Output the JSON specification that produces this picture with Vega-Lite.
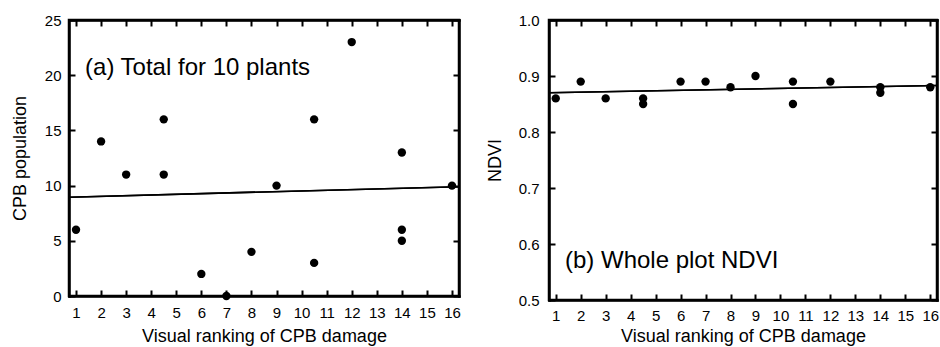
{
  "$schema": "https://vega.github.io/schema/vega-lite/v6.json",
  "padding": {"left": 10, "top": 11, "right": 0, "bottom": 0},
  "spacing": 20,
  "config": {
    "font": "Liberation Sans",
    "view": {"stroke": "black", "strokeWidth": 2.5},
    "axis": {
      "grid": false,
      "labelFont": "Liberation Sans",
      "labelFontSize": 15,
      "labelColor": "black",
      "titleFont": "Liberation Sans",
      "titleFontSize": 18,
      "titleFontWeight": "normal",
      "titleColor": "black"
    }
  },
  "datasets": {
    "cpb": [
      {"rank": 1, "value": 6}, {"rank": 2, "value": 14}, {"rank": 3, "value": 11},
      {"rank": 4.5, "value": 16}, {"rank": 4.5, "value": 11}, {"rank": 6, "value": 2},
      {"rank": 7, "value": 0}, {"rank": 8, "value": 4}, {"rank": 9, "value": 10},
      {"rank": 10.5, "value": 16}, {"rank": 10.5, "value": 3}, {"rank": 12, "value": 23},
      {"rank": 14, "value": 13}, {"rank": 14, "value": 6}, {"rank": 14, "value": 5},
      {"rank": 16, "value": 10}
    ],
    "cpbFit": [{"rank": 0.72, "value": 8.95}, {"rank": 16.28, "value": 9.9}],
    "cpbLabel": [{"rank": 1.36, "value": 20, "label": "(a) Total for 10 plants"}],
    "ndvi": [
      {"rank": 1, "value": 0.86}, {"rank": 2, "value": 0.89}, {"rank": 3, "value": 0.86},
      {"rank": 4.5, "value": 0.86}, {"rank": 4.5, "value": 0.85}, {"rank": 6, "value": 0.89},
      {"rank": 7, "value": 0.89}, {"rank": 8, "value": 0.88}, {"rank": 9, "value": 0.9},
      {"rank": 10.5, "value": 0.89}, {"rank": 10.5, "value": 0.85}, {"rank": 12, "value": 0.89},
      {"rank": 14, "value": 0.88}, {"rank": 14, "value": 0.87}, {"rank": 16, "value": 0.88}
    ],
    "ndviFit": [{"rank": 0.73, "value": 0.87}, {"rank": 16.27, "value": 0.883}],
    "ndviLabel": [{"rank": 1.37, "value": 0.558, "label": "(b) Whole plot NDVI"}]
  },
  "hconcat": [
    {
      "width": 390,
      "height": 276,
      "view": {"stroke": "black", "strokeWidth": 2.5},
      "resolve": {"axis": {"x": "independent", "y": "independent"}},
      "layer": [
        {
          "data": {"name": "cpb"},
          "mark": {"type": "point", "shape": "circle", "filled": true, "color": "black", "opacity": 1, "size": 70},
          "encoding": {
            "x": {"field": "rank", "type": "quantitative", "scale": {"domain": [0.72, 16.28], "nice": false, "zero": false},
                  "axis": {"orient": "bottom", "values": [1,2,3,4,5,6,7,8,9,10,11,12,13,14,15,16], "title": "Visual ranking of CPB damage", "zindex": 2, "domain": true, "domainColor": "black", "domainWidth": 2.5, "domainCap": "square", "ticks": false, "labelPadding": 9, "titlePadding": 7}},
            "y": {"field": "value", "type": "quantitative", "scale": {"domain": [0, 25], "nice": false},
                  "axis": {"orient": "left", "values": [0,5,10,15,20,25], "title": "CPB population", "zindex": 2, "domain": true, "domainColor": "black", "domainWidth": 2.5, "domainCap": "square", "ticks": false, "labelPadding": 8, "titlePadding": 15}}
          }
        },
        {
          "data": {"name": "cpbFit"},
          "mark": {"type": "line", "color": "black", "strokeWidth": 1.6},
          "encoding": {
            "x": {"field": "rank", "type": "quantitative", "axis": {"orient": "top", "values": [1,2,3,4,5,6,7,8,9,10,11,12,13,14,15,16], "labels": false, "title": null, "zindex": 2, "domain": false, "ticks": true, "tickSize": 6, "tickWidth": 2, "tickColor": "black", "offset": -6}},
            "y": {"field": "value", "type": "quantitative", "axis": {"orient": "right", "values": [0,5,10,15,20,25], "labels": false, "title": null, "zindex": 2, "domain": false, "ticks": true, "tickSize": 6, "tickWidth": 2, "tickColor": "black", "offset": -6}}
          }
        },
        {
          "data": {"name": "cpbLabel"},
          "mark": {"type": "text", "align": "left", "baseline": "alphabetic", "fontSize": 24, "font": "Liberation Sans", "color": "black"},
          "encoding": {
            "x": {"field": "rank", "type": "quantitative", "axis": {"orient": "bottom", "values": [1,2,3,4,5,6,7,8,9,10,11,12,13,14,15,16], "labels": false, "title": null, "zindex": 2, "domain": false, "ticks": true, "tickSize": 6, "tickWidth": 2, "tickColor": "black", "offset": -6}},
            "y": {"field": "value", "type": "quantitative", "axis": {"orient": "left", "values": [0,5,10,15,20,25], "labels": false, "title": null, "zindex": 2, "domain": false, "ticks": true, "tickSize": 6, "tickWidth": 2, "tickColor": "black", "offset": -6}},
            "text": {"field": "label"}
          }
        },
        {
          "data": {"name": "cpbFit"},
          "mark": {"type": "line", "color": "black", "strokeWidth": 1.6},
          "encoding": {
            "x": {"field": "rank", "type": "quantitative", "axis": {"orient": "top", "values": [], "labels": false, "title": null, "zindex": 2, "ticks": false, "domain": true, "domainColor": "black", "domainWidth": 2.5, "domainCap": "square"}},
            "y": {"field": "value", "type": "quantitative", "axis": {"orient": "right", "values": [], "labels": false, "title": null, "zindex": 2, "ticks": false, "domain": true, "domainColor": "black", "domainWidth": 2.5, "domainCap": "square"}}
          }
        }
      ]
    },
    {
      "width": 388,
      "height": 280,
      "view": {"stroke": "black", "strokeWidth": 2.5},
      "resolve": {"axis": {"x": "independent", "y": "independent"}},
      "layer": [
        {
          "data": {"name": "ndvi"},
          "mark": {"type": "point", "shape": "circle", "filled": true, "color": "black", "opacity": 1, "size": 70},
          "encoding": {
            "x": {"field": "rank", "type": "quantitative", "scale": {"domain": [0.73, 16.27], "nice": false, "zero": false},
                  "axis": {"orient": "bottom", "values": [1,2,3,4,5,6,7,8,9,10,11,12,13,14,15,16], "title": "Visual ranking of CPB damage", "zindex": 2, "domain": true, "domainColor": "black", "domainWidth": 2.5, "domainCap": "square", "ticks": false, "labelPadding": 8, "titlePadding": 4}},
            "y": {"field": "value", "type": "quantitative", "scale": {"domain": [0.5, 1.0], "nice": false, "zero": false},
                  "axis": {"orient": "left", "values": [0.5,0.6,0.7,0.8,0.9,1.0], "format": ".1f", "title": "NDVI", "zindex": 2, "domain": true, "domainColor": "black", "domainWidth": 2.5, "domainCap": "square", "ticks": false, "labelPadding": 10, "titlePadding": 14}}
          }
        },
        {
          "data": {"name": "ndviFit"},
          "mark": {"type": "line", "color": "black", "strokeWidth": 1.6},
          "encoding": {
            "x": {"field": "rank", "type": "quantitative", "axis": {"orient": "top", "values": [1,2,3,4,5,6,7,8,9,10,11,12,13,14,15,16], "labels": false, "title": null, "zindex": 2, "domain": false, "ticks": true, "tickSize": 6, "tickWidth": 2, "tickColor": "black", "offset": -6}},
            "y": {"field": "value", "type": "quantitative", "axis": {"orient": "right", "values": [0.5,0.6,0.7,0.8,0.9,1.0], "labels": false, "title": null, "zindex": 2, "domain": false, "ticks": true, "tickSize": 6, "tickWidth": 2, "tickColor": "black", "offset": -6}}
          }
        },
        {
          "data": {"name": "ndviLabel"},
          "mark": {"type": "text", "align": "left", "baseline": "alphabetic", "fontSize": 24, "font": "Liberation Sans", "color": "black"},
          "encoding": {
            "x": {"field": "rank", "type": "quantitative", "axis": {"orient": "bottom", "values": [1,2,3,4,5,6,7,8,9,10,11,12,13,14,15,16], "labels": false, "title": null, "zindex": 2, "domain": false, "ticks": true, "tickSize": 6, "tickWidth": 2, "tickColor": "black", "offset": -6}},
            "y": {"field": "value", "type": "quantitative", "axis": {"orient": "left", "values": [0.5,0.6,0.7,0.8,0.9,1.0], "labels": false, "title": null, "zindex": 2, "domain": false, "ticks": true, "tickSize": 6, "tickWidth": 2, "tickColor": "black", "offset": -6}},
            "text": {"field": "label"}
          }
        },
        {
          "data": {"name": "ndviFit"},
          "mark": {"type": "line", "color": "black", "strokeWidth": 1.6},
          "encoding": {
            "x": {"field": "rank", "type": "quantitative", "axis": {"orient": "top", "values": [], "labels": false, "title": null, "zindex": 2, "ticks": false, "domain": true, "domainColor": "black", "domainWidth": 2.5, "domainCap": "square"}},
            "y": {"field": "value", "type": "quantitative", "axis": {"orient": "right", "values": [], "labels": false, "title": null, "zindex": 2, "ticks": false, "domain": true, "domainColor": "black", "domainWidth": 2.5, "domainCap": "square"}}
          }
        }
      ]
    }
  ]
}
